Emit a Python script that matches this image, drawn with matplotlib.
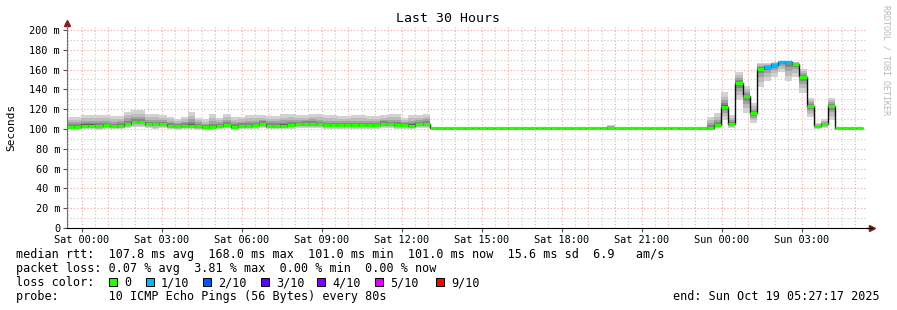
import numpy as np
import matplotlib
matplotlib.use('Agg')
import matplotlib.pyplot as plt
from matplotlib.patches import Rectangle

# --- Data (16 min consolidated steps, hours relative to Sat 00:00) ---
t_start = -0.5453          # Fri 23:27:17
t_end = 29.4547            # Sun 05:27:17
step_h = 16 / 60.0

# median rtt (ms)
median = [102, 102, 103.5, 103.5, 103, 104, 103, 103.5, 105, 106.8,
          106.8, 105, 105, 105, 103.5, 103, 103.5, 103.5, 103, 101.5,
          102, 103.5, 104, 102, 103.5, 103,
          104, 105.5, 103.5, 103.5, 103.5, 104, 105, 105.5, 105.5, 105,
          104, 104, 104, 104, 104, 104, 104, 104, 105.5, 105, 104, 104,
          103.5, 105, 105.5] \
    + [101] * 39 \
    + [101.3, 104, 122.5, 105, 146, 133, 116, 161, 163, 165,
       168, 168, 166, 153, 123, 103, 105, 123] \
    + [101] * 4

# lowest ping of each step (ms)
smoke_lo = [99.5, 99.5, 100, 100, 99, 100, 99.5, 100, 101, 102,
            102, 100.5, 99.5, 100.5, 99.5, 99, 99.5, 100, 99, 98.5,
            99, 100, 100.5, 98.5, 99.5, 99.5,
            100, 101, 99.5, 99.5, 100, 100, 100.5, 101, 101, 100.5,
            99.5, 100, 100, 99.5, 100, 100, 99.5, 100, 101, 100.5, 99.5,
            99.5, 99.5, 100.5, 101] \
    + [101] * 39 \
    + [100, 101, 109, 101, 129, 116, 106, 142, 148, 153,
       158, 148, 153, 136, 112, 100, 101, 109] \
    + [101] * 4

# highest ping of each step (ms)
smoke_hi = [112.5, 112.5, 114, 114, 114, 114, 113, 113, 117.5, 119,
            119, 115, 115, 114, 112.5, 110, 112.5, 117, 111, 110,
            115, 111, 115, 112.5, 112.5, 114,
            114, 114, 113, 113, 115, 115, 114, 114, 115, 115,
            114, 114, 113, 113, 114, 114, 113, 113, 114, 115, 115,
            111, 114, 114, 115] \
    + [101] * 25 + [104.5] + [101] * 13 \
    + [112, 116, 137, 114, 158, 143, 126, 167, 167, 168,
       168, 168, 168, 161, 131.6, 106, 110, 131.6] \
    + [101] * 4

# lost pings out of 10 per step
loss = [0] * 98 + [1, 1, 1, 1] + [0] * 10

loss_colors = {0: '#26ff00', 1: '#00b8ff', 2: '#0059ff', 3: '#5e00ff',
               4: '#7e00ff', 5: '#dd00ff', 9: '#ff0000'}
loss_labels = ['0', '1/10', '2/10', '3/10', '4/10', '5/10', '9/10']
loss_keys = [0, 1, 2, 3, 4, 5, 9]

tick_hours = [0, 3, 6, 9, 12, 15, 18, 21, 24, 27]
tick_labels = ['Sat 00:00', 'Sat 03:00', 'Sat 06:00', 'Sat 09:00', 'Sat 12:00',
               'Sat 15:00', 'Sat 18:00', 'Sat 21:00', 'Sun 00:00', 'Sun 03:00']
ytick_vals = [0, 20, 40, 60, 80, 100, 120, 140, 160, 180, 200]
ytick_labels = ['0'] + ['%d m' % v for v in ytick_vals[1:]]

stats_line = "median rtt:  107.8 ms avg  168.0 ms max  101.0 ms min  101.0 ms now  15.6 ms sd  6.9   am/s"
loss_line = "packet loss: 0.07 % avg  3.81 % max  0.00 % min  0.00 % now"
probe_line = "probe:       10 ICMP Echo Pings (56 Bytes) every 80s"
end_line = "end: Sun Oct 19 05:27:17 2025"

# --- Figure ---
plt.rcParams['font.family'] = ['DejaVu Sans Mono']
W, H = 897, 310
fig = plt.figure(figsize=(W / 100, H / 100), dpi=100)
fig.patch.set_facecolor('white')

def fx(px):
    return px / W

def fy(py):
    return 1 - py / H

ax = fig.add_axes([fx(67), fy(228), fx(867) - fx(67), fy(26) - fy(228)])
ax.set_xlim(t_start, t_end)
ax.set_ylim(0, 204)

# grid
dot = (0, (1, 2))
for h in np.arange(-0.5, 29.6, 0.5):
    if h <= t_start or h >= t_end:
        continue
    if float(h).is_integer():
        ax.axvline(h, color='#f4a0a0', lw=0.8, ls=dot, zorder=1)
    else:
        ax.axvline(h, color='#c8c8c8', lw=0.8, ls=dot, zorder=1)
for v in range(10, 201, 10):
    if v % 20 == 0:
        ax.axhline(v, color='#f4a0a0', lw=0.8, ls=dot, zorder=1)
    else:
        ax.axhline(v, color='#c8c8c8', lw=0.8, ls=dot, zorder=1)

# smoke (nested bands, lightest outside)
med = np.array(median, dtype=float)
lo = np.array(smoke_lo, dtype=float)
hi = np.array(smoke_hi, dtype=float)
edges = t_start + step_h * np.arange(len(med) + 1)
shades = ['#d2d2d2', '#bcbcbc', '#a2a2a2', '#858585', '#5a5a5a']
fracs = [1.0, 0.7, 0.45, 0.25, 0.1]
for c, f in zip(shades, fracs):
    top = med + (hi - med) * f
    bot = med - (med - lo) * f
    ax.stairs(top, edges, baseline=bot, fill=True, color=c, lw=0, zorder=2)

# median line
ax.stairs(med, edges, baseline=None, color='#101010', lw=1.0, zorder=3)
ax.hlines(med, edges[:-1], edges[1:], colors=[loss_colors[l] for l in loss],
          lw=2.3, zorder=4)

# axes styling
for s in ['top', 'right']:
    ax.spines[s].set_visible(False)
ax.spines['left'].set_color('#707070')
ax.spines['bottom'].set_color('black')
ax.set_xticks(tick_hours)
ax.set_xticklabels(tick_labels, fontsize=7.4)
ax.set_yticks(ytick_vals)
ax.set_yticklabels(ytick_labels, fontsize=7.4)
ax.tick_params(axis='both', length=3, width=0.8, color='#505050', pad=2)

# arrows
ax.plot([1.006], [0], marker='>', color='#8b1a1a', ms=4, transform=ax.transAxes, clip_on=False)
ax.plot([0], [1.015], marker='^', color='#8b1a1a', ms=4, transform=ax.transAxes, clip_on=False)
ax.plot([1.0, 1.006], [0, 0], color='black', lw=1, transform=ax.transAxes, clip_on=False)

# texts
fig.text(fx(448), fy(19), 'Last 30 Hours', ha='center', va='center', fontsize=9.5)
fig.text(fx(11), fy(127), 'Seconds', rotation=90, ha='center', va='center', fontsize=8)
fig.text(fx(886), fy(5), 'RRDTOOL / TOBI OETIKER', rotation=-90, ha='center', va='top',
         fontsize=6, color='#b8b8b8')

fig.text(fx(16), fy(254.5), stats_line, ha='left', va='center', fontsize=8.5)
fig.text(fx(16), fy(268.5), loss_line, ha='left', va='center', fontsize=8.5)
fig.text(fx(16), fy(282.5), 'loss color:', ha='left', va='center', fontsize=8.5)
box_x = [109, 146, 203, 261, 317, 375, 436]
for bx, key, lab in zip(box_x, loss_keys, loss_labels):
    fig.patches.append(Rectangle((fx(bx), fy(286)), fx(8), fx(8) * W / H,
                                 transform=fig.transFigure, facecolor=loss_colors[key],
                                 edgecolor='black', lw=0.7))
    fig.text(fx(bx + 15), fy(282.5), lab, ha='left', va='center', fontsize=8.5)
fig.text(fx(16), fy(296.5), probe_line, ha='left', va='center', fontsize=8.5)
fig.text(fx(880), fy(296.5), end_line, ha='right', va='center', fontsize=8.5)

fig.savefig('out.png', dpi=100)
